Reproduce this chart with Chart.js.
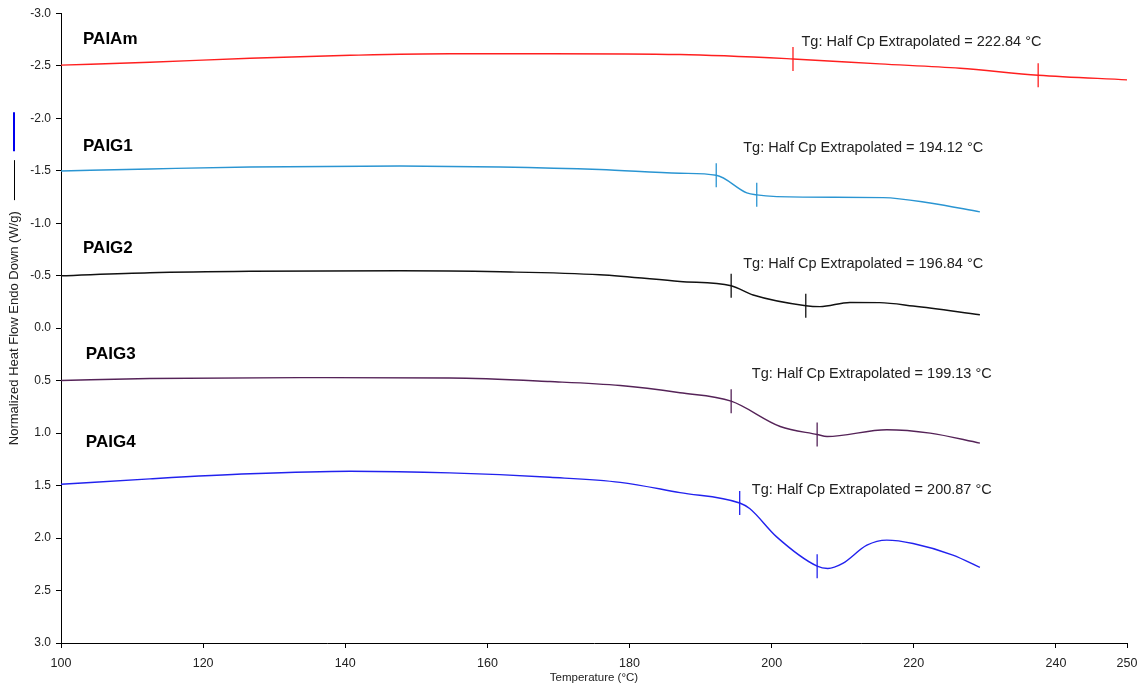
<!DOCTYPE html>
<html>
<head>
<meta charset="utf-8">
<script src="https://cdn.jsdelivr.net/npm/chart.js@4/dist/chart.umd.min.js"></script>
<style>
  html, body { margin: 0; padding: 0; background: #fff; }
  #wrap { width: 1148px; height: 691px; }
</style>
</head>
<body>
<div id="wrap"><canvas id="dsc" width="1148" height="691"></canvas></div>
<script>
// DSC traces: temperature (°C) vs normalized heat flow (W/g), endo down
const seriesNames = ['PAIAm', 'PAIG1', 'PAIG2', 'PAIG3', 'PAIG4'];
const tgValues = [222.84, 194.12, 196.84, 199.13, 200.87];

const paiamT  = [100, 112.5, 126.6, 140.7, 154.7, 168.8, 187.1, 203.0, 215.2, 226.5, 237.5, 250];
const paiamHF = [-2.506, -2.534, -2.572, -2.600, -2.615, -2.615, -2.607, -2.565, -2.518, -2.477, -2.410, -2.366];
const paig1T  = [100, 112.5, 126.6, 147.7, 161.8, 175.8, 187.1, 192.2, 196.5, 197.9, 204.4, 215.7, 222.3, 229.3];
const paig1HF = [-1.498, -1.517, -1.536, -1.545, -1.536, -1.512, -1.476, -1.457, -1.289, -1.270, -1.248, -1.244, -1.193, -1.108];
const paig2T  = [100, 112.5, 126.6, 147.7, 161.8, 175.8, 187.1, 194.3, 197.4, 204.8, 206.8, 211.0, 215.2, 219.9, 229.3];
const paig2HF = [-0.499, -0.528, -0.542, -0.547, -0.537, -0.509, -0.445, -0.404, -0.316, -0.214, -0.205, -0.245, -0.243, -0.211, -0.128];
const paig3T  = [100, 112.5, 133.6, 154.7, 168.8, 178.7, 187.1, 194.3, 201.2, 206.4, 207.8, 216.2, 222.3, 229.3];
const paig3HF = [0.499, 0.480, 0.471, 0.475, 0.509, 0.547, 0.616, 0.696, 0.937, 1.013, 1.032, 0.968, 1.000, 1.095];
const paig4T  = [100, 112.5, 126.6, 140.7, 154.7, 168.8, 178.7, 187.1, 195.5, 196.9, 200.7, 206.4, 207.9, 210.0, 213.4, 216.2, 219.9, 225.5, 229.3];
const paig4HF = [1.488, 1.436, 1.388, 1.364, 1.379, 1.421, 1.469, 1.567, 1.666, 1.719, 1.989, 2.268, 2.290, 2.242, 2.068, 2.020, 2.052, 2.163, 2.280];

// onset/end cursors of each transition
const paiamMarkT = [203.0, 237.5], paiamMarkHF = [-2.565, -2.410];
const paig1MarkT = [192.2, 197.9], paig1MarkHF = [-1.457, -1.270];
const paig2MarkT = [194.3, 204.8], paig2MarkHF = [-0.404, -0.214];
const paig3MarkT = [194.3, 206.4], paig3MarkHF = [0.696, 1.013];
const paig4MarkT = [195.5, 206.4], paig4MarkHF = [1.666, 2.268];

const xTicks = [100, 120, 140, 160, 180, 200, 220, 240, 250];

const colors = ['#ff1f1f', '#2a95d2', '#111111', '#552358', '#2222ee'];
const curves = [[paiamT, paiamHF], [paig1T, paig1HF], [paig2T, paig2HF], [paig3T, paig3HF], [paig4T, paig4HF]];
const marks = [[paiamMarkT, paiamMarkHF], [paig1MarkT, paig1MarkHF], [paig2MarkT, paig2MarkHF], [paig3MarkT, paig3MarkHF], [paig4MarkT, paig4MarkHF]];

// where the sample names and Tg notes sit, in data units
const nameAt = [[103.1, -2.75], [103.1, -1.735], [103.1, -0.756], [103.5, 0.252], [103.5, 1.089]];
const noteAt = [[204.2, -2.727], [196.0, -1.719], [196.0, -0.610], [197.2, 0.435], [197.2, 1.545]];

const toPts = (xs, ys) => xs.map((x, i) => ({ x, y: ys[i] }));

const datasets = [];
curves.forEach((c, i) => {
  datasets.push({
    type: 'line',
    data: toPts(c[0], c[1]),
    borderColor: colors[i],
    borderWidth: 1.4,
    pointRadius: 0,
    cubicInterpolationMode: 'monotone',
    fill: false
  });
  datasets.push({
    type: 'scatter',
    data: toPts(marks[i][0], marks[i][1]),
    borderColor: colors[i],
    borderWidth: 1.3,
    pointStyle: 'line',
    rotation: 90,
    pointRadius: 12,
    showLine: false
  });
});

const labelsPlugin = {
  id: 'dscLabels',
  afterDatasetsDraw(chart) {
    const { ctx, scales: { x, y } } = chart;
    ctx.save();
    ctx.textBaseline = 'middle';
    ctx.textAlign = 'left';
    seriesNames.forEach((name, i) => {
      ctx.font = 'bold 17px "Liberation Sans", Arial, sans-serif';
      ctx.fillStyle = '#000';
      ctx.fillText(name, x.getPixelForValue(nameAt[i][0]), y.getPixelForValue(nameAt[i][1]));
      ctx.font = '14.5px "Liberation Sans", Arial, sans-serif';
      ctx.fillStyle = '#222';
      ctx.fillText('Tg: Half Cp Extrapolated = ' + tgValues[i].toFixed(2) + ' °C',
        x.getPixelForValue(noteAt[i][0]), y.getPixelForValue(noteAt[i][1]));
    });
    ctx.restore();
  },
  afterDraw(chart) {
    // little line samples above the y title
    const { ctx, chartArea } = chart;
    const mid = (chartArea.top + chartArea.bottom) / 2;
    const cx = 14.5;
    ctx.save();
    ctx.strokeStyle = '#000';
    ctx.lineWidth = 1;
    ctx.beginPath();
    ctx.moveTo(cx, mid - 168); ctx.lineTo(cx, mid - 128);
    ctx.stroke();
    ctx.strokeStyle = '#0000ee';
    ctx.lineWidth = 2;
    ctx.beginPath();
    ctx.moveTo(14, mid - 216); ctx.lineTo(14, mid - 177);
    ctx.stroke();
    ctx.restore();
  }
};

new Chart(document.getElementById('dsc').getContext('2d'), {
  type: 'line',
  data: { datasets },
  options: {
    responsive: false,
    animation: false,
    layout: { padding: { left: 0, top: 12, right: 21, bottom: 0 } },
    plugins: { legend: { display: false }, tooltip: { enabled: false } },
    scales: {
      x: {
        type: 'linear',
        min: 100,
        max: 250,
        afterBuildTicks: s => { s.ticks = xTicks.map(v => ({ value: v })); },
        afterFit: s => { s.height = 48; },
        border: { display: true, color: '#000', width: 1 },
        grid: { drawOnChartArea: false, drawTicks: true, tickLength: 5, color: '#000' },
        ticks: { color: '#222', padding: 8, maxRotation: 0, font: { family: '"Liberation Sans", Arial, sans-serif', size: 12.5 } },
        title: { display: true, text: 'Temperature (°C)', color: '#222', padding: { top: 0, bottom: 6 },
                 font: { family: '"Liberation Sans", Arial, sans-serif', size: 11.5 } }
      },
      y: {
        type: 'linear',
        reverse: true,
        min: -3,
        max: 3,
        afterFit: s => { s.width = 61; },
        border: { display: true, color: '#000', width: 1 },
        grid: { drawOnChartArea: false, drawTicks: true, tickLength: 5, color: '#000' },
        ticks: { stepSize: 0.5, color: '#222', padding: 5,
                 callback: v => v.toFixed(1),
                 font: { family: '"Liberation Sans", Arial, sans-serif', size: 12 } },
        title: { display: true, text: 'Normalized Heat Flow Endo Down (W/g)', color: '#222', padding: { top: 7, bottom: 0 },
                 font: { family: '"Liberation Sans", Arial, sans-serif', size: 13 } }
      }
    }
  },
  plugins: [labelsPlugin]
});
</script>
</body>
</html>
